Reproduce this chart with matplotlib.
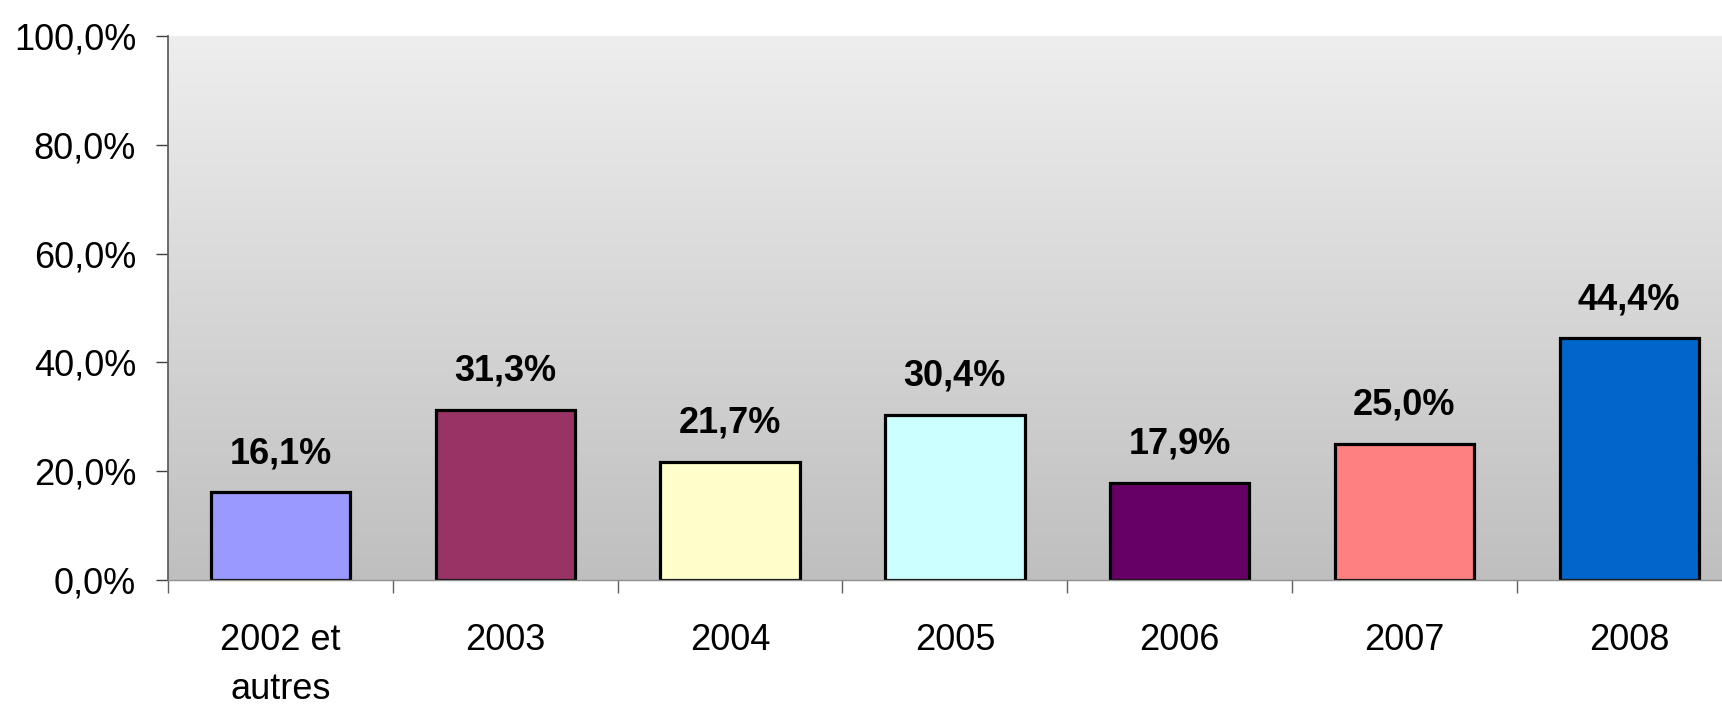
import numpy as np
import matplotlib
matplotlib.use("Agg")
import matplotlib.pyplot as plt
from matplotlib.ticker import FuncFormatter, FixedLocator

categories = ["2002 et\nautres", "2003", "2004", "2005", "2006", "2007", "2008"]
values = [16.1, 31.3, 21.7, 30.4, 17.9, 25.0, 44.4]
colors = ["#9999FF", "#993366", "#FFFFCC", "#CCFFFF", "#660066", "#FF8080", "#0066CC"]
yticks = [0, 20, 40, 60, 80, 100]

plt.rcParams['font.family'] = ['Liberation Sans', 'DejaVu Sans']

fig = plt.figure(figsize=(17.22, 7.05), dpi=100)
# plot area runs slightly past the right edge, as in the original
ax = fig.add_axes([0.0976, 0.1773, 0.9138, 0.7716])

# grey gradient background
grad = np.linspace(0, 1, 256).reshape(-1, 1)
ax.imshow(grad, cmap=matplotlib.colors.LinearSegmentedColormap.from_list(
    "bg", ["#EEEEEE", "#BFBFBF"]), aspect="auto",
    extent=[0, 1, 0, 1], transform=ax.transAxes, zorder=0)

x = np.arange(len(categories))
ax.bar(x, values, width=0.62, color=colors, edgecolor="black", linewidth=2.3, zorder=2)

for xi, v in zip(x, values):
    ax.annotate(f"{v:.1f}%".replace(".", ","), (xi, v), xytext=(0, 21),
                textcoords="offset points", ha="center", va="baseline",
                fontsize=26, fontweight="bold", zorder=3)

ax.set_xlim(-0.5, len(categories) - 0.5)
ax.set_ylim(0, 100)

ax.yaxis.set_major_locator(FixedLocator(yticks))
ax.yaxis.set_major_formatter(FuncFormatter(lambda v, p: f"{v:.1f}%".replace(".", ",")))
ax.tick_params(axis="y", length=9, width=1, color="#404040", pad=14, labelsize=26)

ax.set_xticks(x)
ax.set_xticklabels(categories, linespacing=1.5)
ax.set_xticks(np.arange(len(categories) + 1) - 0.5, minor=True)
ax.tick_params(axis="x", which="major", length=0, pad=31, labelsize=26)
ax.tick_params(axis="x", which="minor", length=9, width=1, color="#606060", direction="out")

for s in ["top", "right"]:
    ax.spines[s].set_visible(False)
ax.spines["left"].set_color("#606060")
ax.spines["left"].set_linewidth(1.3)
ax.spines["bottom"].set_color("#909090")
ax.spines["bottom"].set_linewidth(1.0)
ax.spines["left"].set_zorder(4)
ax.spines["bottom"].set_zorder(4)

fig.savefig("out.png", dpi=100)
